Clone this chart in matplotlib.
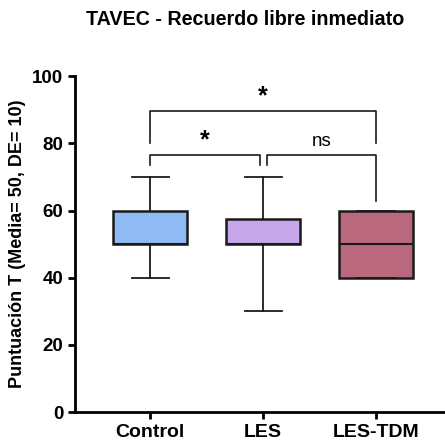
import numpy as np
import matplotlib as mpl
mpl.use('Agg')
from matplotlib import pyplot as plt

plt.rcParams['font.family'] = ['Liberation Sans', 'DejaVu Sans']

groups = ['Control', 'LES', 'LES-TDM']
whislo = [40, 30, 40]
q1 = [50, 50, 40]
med = [50, 50, 50]
q3 = [60, 57.5, 60]
whishi = [70, 70, 60]
colors = ['#8fbaf4', '#c6a8ea', '#b9687e']

# comparaciones (i, j, altura, pie izq, pie der, texto)
comps = [(0, 1, 76.5, 73.5, 73.5, '*'),
         (1, 2, 76.5, 73.5, 63, 'ns'),
         (0, 2, 89.7, 80, 80, '*')]

fig = plt.figure(figsize=(4.45, 4.46), dpi=100)
ax = fig.add_axes([0.169, 0.076, 0.831, 0.753])

stats = []
for i in range(len(groups)):
    stats.append({'whislo': whislo[i], 'q1': q1[i], 'med': med[i], 'q3': q3[i],
                  'whishi': whishi[i], 'fliers': [], 'label': groups[i]})
x = np.arange(len(groups))
bp = ax.bxp(stats, positions=x, widths=0.66, patch_artist=True, showfliers=False,
            boxprops=dict(linewidth=1.8, edgecolor='#1a1a1a'),
            medianprops=dict(color='#1a1a1a', linewidth=1.5),
            whiskerprops=dict(color='#1a1a1a', linewidth=1.3),
            capprops=dict(color='#1a1a1a', linewidth=1.3), capwidths=0.33)
for patch, c in zip(bp['boxes'], colors):
    patch.set_facecolor(c)

for i, j, h, yl, yr, txt in comps:
    xi = x[i] + (0.03 if i == 1 else 0)
    xj = x[j] - (0.03 if j == 1 else 0)
    ax.plot([xi, xi, xj, xj], [yl, h, h, yr], color='#1a1a1a', lw=1.2, clip_on=False)
    if txt == '*':
        ax.text((xi + xj) / 2, h + 0.8, txt, ha='center', va='bottom', fontsize=18, fontweight='bold')
    else:
        ax.text((xi + xj) / 2, h + 1.5, txt, ha='center', va='bottom', fontsize=13.5)

ax.set_xlim(-0.664, 2.61)
ax.set_ylim(0, 100)
ax.set_yticks([0, 20, 40, 60, 80, 100])
ax.spines['top'].set_visible(False)
ax.spines['right'].set_visible(False)
ax.spines['left'].set_linewidth(2)
ax.spines['bottom'].set_linewidth(2)
ax.tick_params(axis='both', width=2, length=5)
ax.set_xticks(x)
ax.set_xticklabels(groups, fontsize=14, fontweight='bold')
for lab in ax.get_yticklabels():
    lab.set_fontsize(13.5)
    lab.set_fontweight('bold')
ax.set_ylabel('Puntuación T (Media= 50, DE= 10)', fontsize=13, fontweight='bold')
ax.yaxis.set_label_coords(-0.134, 0.5)
fig.text(0.551, 0.957, 'TAVEC - Recuerdo libre inmediato', ha='center', va='center',
         fontsize=14.2, fontweight='bold')

plt.savefig('out.png', dpi=100)
